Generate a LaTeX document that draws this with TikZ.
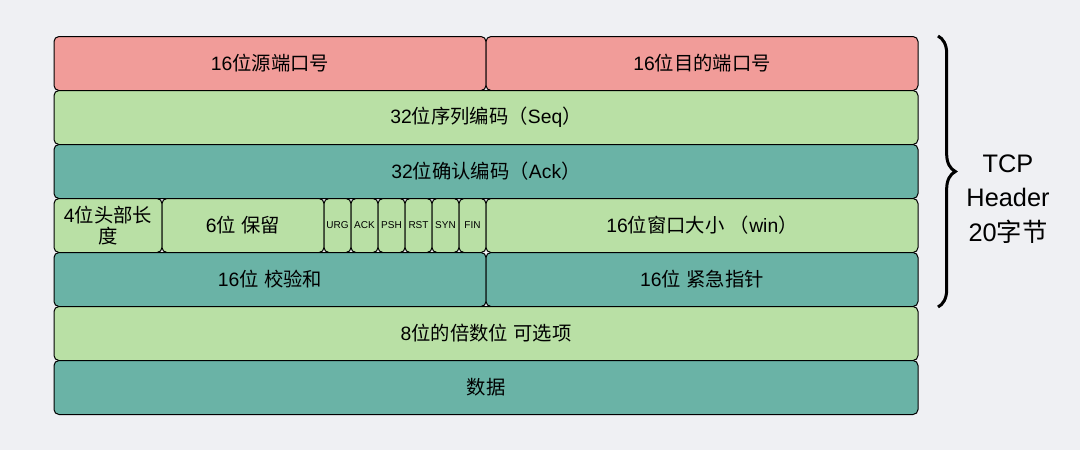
\documentclass[tikz,border=0pt]{standalone}
\usepackage{fontspec}
\usepackage{tikz}
\usetikzlibrary{decorations.pathreplacing}
\setmainfont{Liberation Sans}
\newfontfamily\zhfont{Noto Sans CJK SC}
\newcommand{\zh}[1]{{\zhfont #1}}
\definecolor{bgcol}{HTML}{EFF0F3}
\definecolor{portred}{HTML}{F19C99}
\definecolor{fieldgreen}{HTML}{B9E0A5}
\definecolor{fieldteal}{HTML}{6AB3A6}
\tikzset{
  field/.style={rectangle, draw=black, line width=0.75pt, rounded corners=3.75pt, minimum height=40.5pt, inner sep=0pt, align=center, font=\fontsize{14.5}{17}\selectfont},
  half/.style={field, minimum width=324pt},
  full/.style={field, minimum width=648pt},
  flag/.style={field, minimum width=20.25pt, fill=fieldgreen, font=\fontsize{7.5}{9}\selectfont}
}
\begin{document}
\begin{tikzpicture}[x=0.75pt, y=-0.75pt]
			\fill[bgcol] (0,0) rectangle (1080,450);
			\useasboundingbox (0,0) rectangle (1080,450);
			\node[half, fill=portred](srcport) at (270, 63.5) {16\zh{位源端口号}};
			\node[half, fill=portred](dstport) at (702, 63.5) {16\zh{位目的端口号}};
			\node[full, fill=fieldgreen](seqnum) at (486, 117.5) {32\zh{位序列编码（}Seq\zh{）}};
			\node[full, fill=fieldteal](acknum) at (486, 171.5) {32\zh{位确认编码（}Ack\zh{）}};
			\node[field, minimum width=81pt, fill=fieldgreen](hdrlen) at (108, 225.5) {4\zh{位头部长}\\[-1pt]\zh{度}};
			\node[field, minimum width=121.5pt, fill=fieldgreen](reserved) at (243, 225.5) {6\zh{位} \zh{保留}};
			\node[flag](urg) at (337.5, 225.5) {URG};
			\node[flag](ackflag) at (364.5, 225.5) {ACK};
			\node[flag](psh) at (391.5, 225.5) {PSH};
			\node[flag](rst) at (418.5, 225.5) {RST};
			\node[flag](syn) at (445.5, 225.5) {SYN};
			\node[flag](fin) at (472.5, 225.5) {FIN};
			\node[half, fill=fieldgreen](window) at (702, 225.5) {16\zh{位窗口大小} \zh{（}win\zh{）}};
			\node[half, fill=fieldteal](checksum) at (270, 279.5) {16\zh{位} \zh{校验和}};
			\node[half, fill=fieldteal](urgptr) at (702, 279.5) {16\zh{位} \zh{紧急指针}};
			\node[full, fill=fieldgreen](options) at (486, 333.5) {8\zh{位的倍数位} \zh{可选项}};
			\node[full, fill=fieldteal](payload) at (486, 387.5) {\zh{数据}};
			\coordinate(bracetop) at (938, 36);
			\coordinate(bracebot) at (938, 307);
			\draw[line width=2.25pt, decorate, decoration={brace, amplitude=13pt}] (bracetop) -- (bracebot);
			\node[align=center, font=\fontsize{19}{26}\selectfont](hdrnote) at (1008, 199) {TCP\\Header\\20\zh{字节}};
		\end{tikzpicture}
\end{document}
